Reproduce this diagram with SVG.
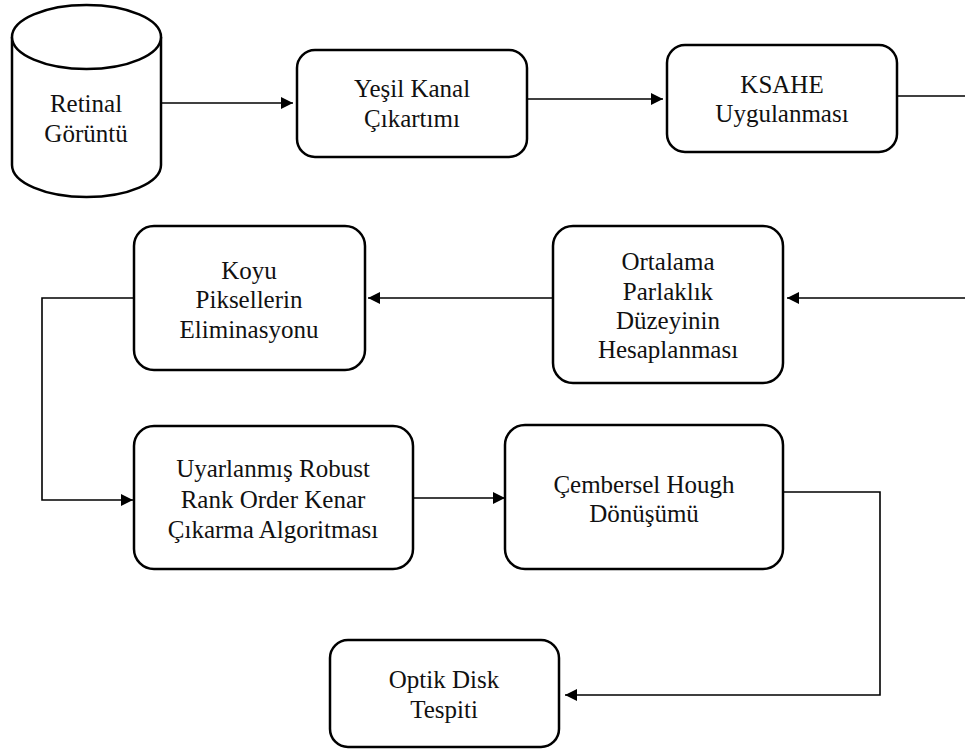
<svg xmlns="http://www.w3.org/2000/svg" width="965" height="749" viewBox="0 0 965 749">
<style>
.box{fill:#fff;stroke:#000;stroke-width:2.5}
.t{font-family:'Liberation Serif',serif;font-size:25px;fill:#111;text-anchor:middle}
.c{fill:none;stroke:#000;stroke-width:1.6}
</style>
<defs>
<marker id="ah" viewBox="0 0 10 10" refX="10" refY="5" markerWidth="12" markerHeight="12" markerUnits="userSpaceOnUse" orient="auto">
<path d="M0,0 L10,5 L0,10 z" fill="#000"/>
</marker>
</defs>
<rect width="965" height="749" fill="#fff"/>
<g id="connectors">
<line class="c" x1="161" y1="103" x2="293" y2="103" marker-end="url(#ah)"/>
<line class="c" x1="527" y1="99" x2="663" y2="99" marker-end="url(#ah)"/>
<line class="c" x1="897" y1="96" x2="965" y2="96"/>
<line class="c" x1="965" y1="298" x2="787" y2="298" marker-end="url(#ah)"/>
<line class="c" x1="553" y1="298" x2="368" y2="298" marker-end="url(#ah)"/>
<polyline class="c" points="134,298 42,298 42,500 133,500" marker-end="url(#ah)"/>
<line class="c" x1="413" y1="498" x2="505" y2="498" marker-end="url(#ah)"/>
<polyline class="c" points="783,492 880,492 880,695 565,695" marker-end="url(#ah)"/>
</g>
<g id="retinal">
<path class="box" d="M12,37 L12,165 A74.5,32 0 0 0 161,165 L161,37"/>
<ellipse class="box" cx="86.5" cy="37" rx="74.5" ry="32"/>
<text class="t" x="86" y="112">Retinal</text>
<text class="t" x="86" y="142">Görüntü</text>
</g>
<g id="yesil">
<rect class="box" x="297" y="50" width="230" height="107" rx="18"/>
<text class="t" x="412" y="97">Yeşil Kanal</text>
<text class="t" x="412" y="127">Çıkartımı</text>
</g>
<g id="ksahe">
<rect class="box" x="667" y="45" width="230" height="107" rx="18"/>
<text class="t" x="782" y="93">KSAHE</text>
<text class="t" x="782" y="122">Uygulanması</text>
</g>
<g id="ortalama">
<rect class="box" x="553" y="226" width="230" height="157" rx="20"/>
<text class="t" x="668" y="270">Ortalama</text>
<text class="t" x="668" y="300">Parlaklık</text>
<text class="t" x="668" y="329">Düzeyinin</text>
<text class="t" x="668" y="358">Hesaplanması</text>
</g>
<g id="koyu">
<rect class="box" x="134" y="226" width="231" height="144" rx="20"/>
<text class="t" x="249" y="279">Koyu</text>
<text class="t" x="249" y="308">Piksellerin</text>
<text class="t" x="249" y="338">Eliminasyonu</text>
</g>
<g id="uyarlanmis">
<rect class="box" x="134" y="426" width="279" height="143" rx="20"/>
<text class="t" x="273" y="477">Uyarlanmış Robust</text>
<text class="t" x="273" y="508">Rank Order Kenar</text>
<text class="t" x="273" y="538">Çıkarma Algoritması</text>
</g>
<g id="hough">
<rect class="box" x="505" y="425" width="278" height="144" rx="20"/>
<text class="t" x="644" y="493">Çembersel Hough</text>
<text class="t" x="644" y="522">Dönüşümü</text>
</g>
<g id="optik">
<rect class="box" x="330" y="640" width="229" height="107" rx="18"/>
<text class="t" x="444" y="688">Optik Disk</text>
<text class="t" x="444" y="718">Tespiti</text>
</g>
</svg>
